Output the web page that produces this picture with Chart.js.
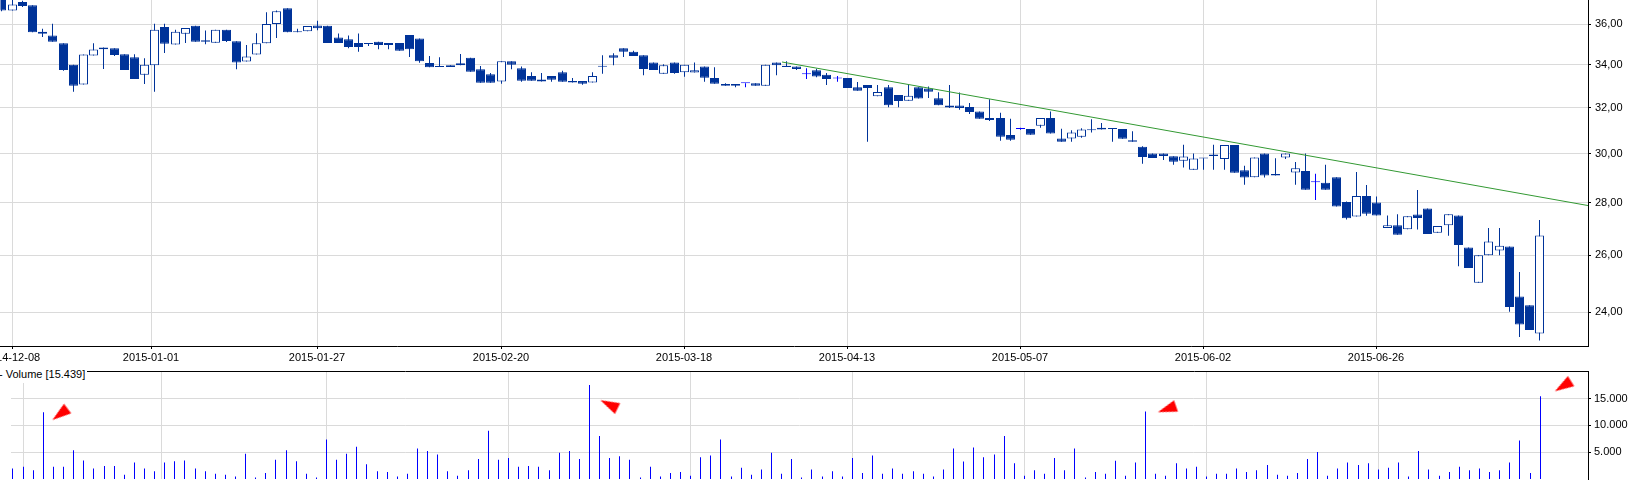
<!DOCTYPE html>
<html>
<head>
<meta charset="utf-8">
<title>Candlestick chart</title>
<script src="https://cdn.jsdelivr.net/npm/chart.js@4.4.1/dist/chart.umd.min.js"></script>
<style>
html,body{margin:0;padding:0;background:#fff;overflow:hidden;width:1632px;height:490px;}
#wrap{position:relative;width:1632px;height:490px;overflow:hidden;}
#priceCanvas{position:absolute;left:0;top:0;}
#volCanvas{position:absolute;left:0;top:360px;}
#volLegend{position:absolute;left:-1px;top:367px;font:11px "Liberation Sans",Arial,sans-serif;background:#fff;padding:1px 2px 2px 0;line-height:13px;color:#000;white-space:nowrap;}
</style>
</head>
<body>
<div id="wrap">
<canvas id="priceCanvas" width="1632" height="366"></canvas>
<canvas id="volCanvas" width="1632" height="130"></canvas>
<div id="volLegend">- Volume [15.439]</div>
</div>
<script>
// ---- data ----
const tickIndex = [1, 14.65, 31, 49, 67, 83, 100, 118, 135];
const tickLabels = ['2014-12-08','2015-01-01','2015-01-27','2015-02-20','2015-03-18','2015-04-13','2015-05-07','2015-06-02','2015-06-26'];
const priceTicks = [24, 26, 28, 30, 32, 34, 36];
const volumeTicks = [5000, 10000, 15000];

const open = [
37.30,36.70,37.13,36.96,35.61,35.43,35.04,34.00,33.07,34.44,
34.83,34.80,34.50,34.36,33.52,33.98,35.85,34.98,35.51,35.92,
35.19,35.07,35.72,35.14,34.15,34.49,35.04,36.00,36.81,35.61,
35.64,35.93,35.92,35.33,35.24,35.06,35.06,35.11,35.06,35.06,
35.45,35.28,34.08,33.92,33.97,34.07,34.33,33.78,33.55,33.21,
34.16,33.83,33.46,33.30,33.46,33.64,33.23,33.23,33.16,33.92,
34.46,34.80,34.62,34.46,34.11,33.57,34.11,33.64,33.63,33.92,
33.37,33.09,33.09,33.12,33.13,33.01,34.11,33.89,33.92,33.55,
33.74,33.52,33.35,33.37,32.94,33.04,32.52,32.94,32.58,32.32,
32.94,32.88,32.43,32.10,32.10,32.04,31.84,31.54,31.54,30.80,
31.06,31.06,31.20,31.55,30.65,30.65,30.72,31.01,31.12,31.07,
31.06,30.57,30.29,30.01,30.01,29.89,29.70,29.33,29.81,29.97,
29.78,30.37,29.31,29.02,30.01,29.16,29.84,29.22,29.28,28.82,
28.80,29.02,28.03,27.46,28.27,28.01,27.02,27.13,26.98,27.54,
27.77,26.84,27.13,27.50,26.29,25.02,26.01,26.18,26.33,24.54,
24.24,23.30];

const high = [
37.50,37.30,37.20,36.96,35.76,36.02,35.04,34.00,34.49,35.04,
34.83,34.80,34.50,34.50,34.31,36.02,36.02,35.71,35.80,35.92,
35.67,35.71,35.72,35.14,34.95,35.54,36.61,36.70,36.81,35.76,
35.90,36.17,35.92,35.53,35.43,35.53,35.06,35.11,35.06,35.06,
35.45,35.28,34.42,34.36,33.97,34.52,34.33,33.94,33.60,34.16,
34.16,33.92,33.64,33.60,33.46,33.71,33.37,33.23,33.64,34.46,
34.55,34.80,34.67,34.46,34.11,34.02,34.11,34.00,34.11,33.92,
33.88,33.13,33.09,33.12,33.13,34.00,34.11,34.16,33.92,33.83,
33.81,33.60,33.47,33.37,33.18,33.04,33.04,33.04,32.58,33.04,
32.94,32.97,32.71,33.04,32.70,32.22,31.84,32.39,31.78,31.51,
31.12,31.06,31.55,31.84,31.07,31.01,31.09,31.49,31.32,31.07,
31.06,30.96,30.32,30.01,30.01,29.89,30.38,30.01,29.81,30.38,
30.37,30.37,29.50,29.84,30.01,29.81,30.01,29.65,30.01,29.17,
29.54,29.02,28.05,29.24,28.71,28.25,27.50,27.55,27.47,28.51,
27.77,27.10,27.55,27.50,26.29,26.01,27.02,27.02,26.33,25.40,
24.24,27.33];

const low = [
36.65,36.70,36.88,35.59,35.35,35.11,33.71,32.73,33.07,34.44,
33.80,34.42,33.75,33.32,33.09,32.73,34.57,34.98,35.06,35.11,
34.99,35.07,35.10,33.78,34.15,34.49,35.04,35.30,35.59,35.59,
35.64,35.69,35.06,35.06,34.80,34.62,34.91,34.75,34.75,34.67,
34.37,34.09,33.88,33.89,33.89,33.98,33.66,33.15,33.15,33.10,
33.78,33.20,33.24,33.21,33.20,33.20,33.16,33.05,33.16,33.57,
33.98,34.37,34.42,33.50,33.75,33.57,33.57,33.43,33.63,33.20,
33.10,33.01,32.94,32.94,33.01,33.01,33.50,33.89,33.75,33.32,
33.40,33.04,33.20,32.91,32.78,30.51,32.52,32.03,32.03,32.32,
32.42,32.45,32.12,31.99,31.91,31.72,31.51,31.41,30.55,30.55,
31.03,30.81,31.12,30.86,30.51,30.51,30.68,30.91,31.04,30.51,
30.64,30.51,29.58,29.82,29.74,29.54,29.42,29.33,29.33,29.33,
29.33,29.21,28.72,29.02,29.01,29.09,29.78,28.72,28.52,28.11,
28.52,27.85,27.35,27.46,27.49,27.50,27.02,26.77,26.98,26.97,
26.80,26.84,26.73,25.61,25.54,25.02,26.01,26.01,24.02,23.18,
23.41,23.07];

const close = [
36.70,37.01,36.93,35.59,35.51,35.11,33.75,33.01,34.49,34.73,
34.75,34.47,33.75,33.32,34.00,35.71,35.02,35.61,35.80,35.11,
35.12,35.71,35.15,34.10,34.39,35.04,36.00,36.65,35.59,35.59,
35.90,35.79,35.06,35.06,34.86,34.86,35.01,34.96,34.96,34.67,
34.75,34.16,33.88,33.89,33.89,33.98,33.66,33.15,33.15,34.16,
34.00,33.24,33.24,33.21,33.29,33.20,33.16,33.10,33.46,33.90,
34.33,34.62,34.42,33.80,33.75,33.97,33.61,34.00,33.74,33.38,
33.10,33.01,33.01,33.12,33.01,34.00,33.98,33.95,33.80,33.55,
33.44,33.32,33.35,32.91,32.78,32.91,32.72,32.12,32.31,32.55,
32.42,32.73,32.12,32.01,31.99,31.81,31.51,31.46,30.72,30.59,
31.06,30.81,31.55,30.86,30.51,30.91,31.04,31.04,31.04,31.06,
30.64,30.51,29.86,29.82,29.90,29.66,29.88,29.80,29.80,29.90,
30.37,29.21,29.01,29.84,29.09,29.09,30.01,29.39,28.52,28.82,
28.52,27.85,27.40,28.27,27.57,27.50,27.13,26.77,27.47,27.41,
26.80,27.10,27.55,26.38,25.54,26.01,26.51,26.36,24.18,23.59,
23.41,26.74];

const volume = [
1938,2266,1611,12422,2266,2266,5378,3467,1938,2430,
2430,792,3085,1938,1447,3085,3303,3467,1938,1447,
956,792,464,4723,300,1119,3576,5378,3303,956,
300,7344,3576,4723,6033,2757,1447,1283,464,956,
5706,5214,4559,1447,628,1611,3740,8982,3576,3904,
2266,2430,2266,1611,4887,5214,3740,17499,7999,3904,
4232,3576,300,2266,464,1119,1283,628,4068,4395,
7344,464,2102,792,1775,4887,956,3740,300,1775,
464,1447,464,3904,1119,4395,956,1938,956,1447,
956,464,1775,5706,3249,5870,4068,4559,7999,2921,
628,1611,956,3904,1611,5706,300,1283,956,3413,
628,3085,12585,956,628,2921,1938,2266,464,956,
956,1938,1283,1611,2594,792,628,1119,3740,5051,
628,1938,3085,2594,2921,1775,2102,3085,464,5214,
1775,628,1283,2266,1611,1938,1283,1611,3085,7180,
1119,15439];

// trend line (bar index, price)
const trendIdx = [76.6, 155.78];
const trendPrice = [34.13, 27.89];

// red arrow markers (bar index, volume units)
const markerIdx = [4.70, 59.01, 114.18, 153.27];
const markerVol = [12057, 13902, 13033, 17295];

// ---- view ----
const X_MIN = -0.147, X_MAX = 155.78;
const P_MIN = 22.89, P_MAX = 37.24;
const V_MAX = 20126;
const NAVY = '#003399', DOJI = '#0000ff', GRID = '#dadada';
const FONT = {family: "'Liberation Sans', Arial, sans-serif", size: 11};

Chart.defaults.font.family = FONT.family;
Chart.defaults.font.size = FONT.size;
Chart.defaults.color = '#000';

function candleColor(i) { return open[i] === close[i] ? DOJI : NAVY; }
function fmtPrice(v) { return Number(v).toFixed(2).replace('.', ','); }
function fmtVol(v) { return String(Math.round(v)).replace(/\B(?=(\d{3})+(?!\d))/g, '.'); }

const halfPixelBars = {
  id: 'halfPixelBars',
  beforeDatasetDraw(chart, args) {
    if (args.meta.type === 'bar') { chart.ctx.save(); chart.ctx.translate(0.5, 0); }
  },
  afterDatasetDraw(chart, args) {
    if (args.meta.type === 'bar') { chart.ctx.restore(); }
  }
};

function xScale(position, showLabels) {
  return {
    type: 'linear', position: position, min: X_MIN, max: X_MAX,
    offset: false, alignToPixels: true,
    afterBuildTicks: s => { s.ticks = tickIndex.map(v => ({value: v})); },
    afterFit: s => { s.height = showLabels ? 20 : 0; s.paddingLeft = 0; s.paddingRight = 0; },
    ticks: {display: showLabels, autoSkip: false, maxRotation: 0, minRotation: 0, padding: 2,
            color: '#000', font: FONT, callback: (v, i) => tickLabels[i]},
    grid: {color: GRID, offset: false, drawTicks: showLabels, tickLength: 3, tickColor: '#000', lineWidth: 1},
    border: {color: '#000', width: 1}
  };
}

// ---- price chart ----
new Chart(document.getElementById('priceCanvas'), {
  type: 'bar',
  data: {
    datasets: [
      {
        type: 'line', order: 0,
        data: trendIdx.map((x, i) => ({x: x, y: trendPrice[i]})),
        borderColor: '#339933', borderWidth: 1, pointRadius: 0, tension: 0, fill: false
      },
      {
        type: 'bar', order: 1, grouped: false,
        data: open.map((o, i) => ({x: i, y: [o, close[i]]})),
        barThickness: 9, maxBarThickness: 9, minBarLength: 1, inflateAmount: 0,
        borderWidth: 1, borderSkipped: false,
        backgroundColor: c => { const i = c.dataIndex; return close[i] > open[i] ? '#ffffff' : candleColor(i); },
        borderColor: c => candleColor(c.dataIndex)
      },
      {
        type: 'bar', order: 2, grouped: false,
        data: low.map((l, i) => ({x: i, y: [l, high[i]]})),
        barThickness: 1, maxBarThickness: 1, minBarLength: 1, inflateAmount: 0,
        borderWidth: 0,
        backgroundColor: c => candleColor(c.dataIndex)
      }
    ]
  },
  options: {
    responsive: false, animation: false, devicePixelRatio: 1, events: [],
    layout: {padding: 0},
    plugins: {legend: {display: false}, tooltip: {enabled: false}, title: {display: false}},
    scales: {
      x: xScale('bottom', true),
      y: {
        type: 'logarithmic', position: 'right', min: P_MIN, max: P_MAX,
        afterBuildTicks: s => { s.ticks = priceTicks.map(v => ({value: v})); },
        afterFit: s => { s.width = 44; s.paddingTop = 0; s.paddingBottom = 0; },
        ticks: {padding: 4, color: '#000', font: FONT, callback: v => fmtPrice(v)},
        grid: {color: GRID, tickLength: 3, tickColor: '#000'},
        border: {color: '#000', width: 1}
      }
    }
  },
  plugins: [halfPixelBars]
});

// ---- volume chart ----
function makeArrow() {
  const c = document.createElement('canvas');
  c.width = 24; c.height = 24;
  const g = c.getContext('2d');
  g.fillStyle = '#ff0000';
  g.beginPath(); g.moveTo(12, 2.5); g.lineTo(18, 21.5); g.lineTo(6, 21.5); g.closePath(); g.fill();
  return c;
}
const arrowImg = makeArrow();

new Chart(document.getElementById('volCanvas'), {
  type: 'bar',
  data: {
    datasets: [
      {
        type: 'scatter', order: 0,
        data: markerIdx.map((x, i) => ({x: x, y: markerVol[i]})),
        pointStyle: arrowImg, pointRadius: 10, pointRotation: [-127, -64, -109, -122],
        clip: false
      },
      {
        type: 'bar', order: 1, grouped: false,
        data: volume.map((v, i) => ({x: i, y: v})),
        barThickness: 1, maxBarThickness: 1, inflateAmount: 0, borderWidth: 0,
        backgroundColor: '#0000ff'
      }
    ]
  },
  options: {
    responsive: false, animation: false, devicePixelRatio: 1, events: [],
    layout: {padding: {top: 6, bottom: 1, left: 0, right: 0}},
    plugins: {legend: {display: false}, tooltip: {enabled: false}, title: {display: false}},
    scales: {
      x: xScale('top', false),
      y: {
        type: 'linear', position: 'right', min: 0, max: V_MAX,
        afterBuildTicks: s => { s.ticks = volumeTicks.map(v => ({value: v})); },
        afterFit: s => { s.width = 44; s.paddingTop = 0; s.paddingBottom = 0; },
        ticks: {padding: 3, color: '#000', font: FONT, callback: v => fmtVol(v)},
        grid: {color: GRID, tickLength: 3, tickColor: '#000'},
        border: {color: '#000', width: 1}
      }
    }
  },
  plugins: [halfPixelBars]
});
</script>
</body>
</html>
